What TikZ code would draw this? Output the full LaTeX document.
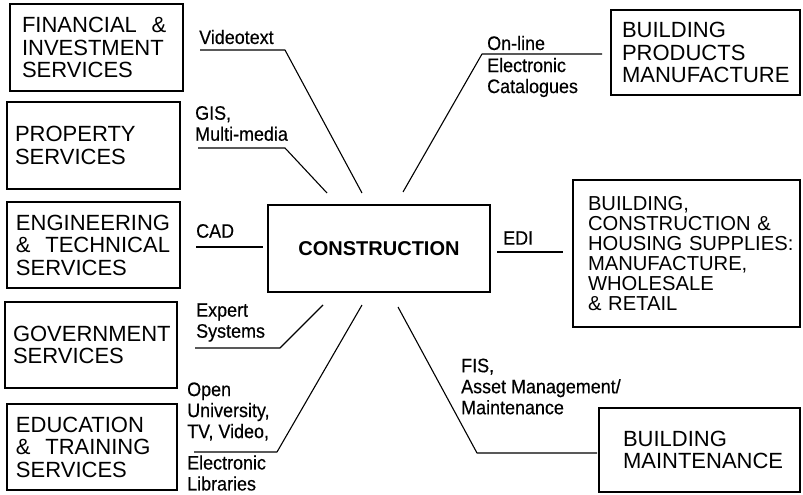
\documentclass[tikz,border=0pt]{standalone}
\usepackage{fontspec}
\newfontfamily\boxfont{Liberation Sans}
\newfontfamily\lblfont[FakeStretch=0.92,FakeBold=0.4]{Liberation Sans}
\begin{document}
\begin{tikzpicture}[x=1pt,y=-1pt,
  svc/.style={draw, line width=1.2pt, rectangle, inner xsep=0pt, inner ysep=0pt,
    align=left, font=\boxfont\fontsize{22pt}{22.5pt}\selectfont},
  hub/.style={draw, line width=1.2pt, rectangle, inner sep=0pt,
    font=\boxfont\bfseries\fontsize{20pt}{22pt}\selectfont},
  lbl/.style={anchor=west, inner sep=0pt, align=left,
    font=\lblfont\fontsize{19.5pt}{21pt}\selectfont},
  conn/.style={line width=1.1pt, line join=round}]
\useasboundingbox (0,0) rectangle (803,495);

% central box
\node[hub, minimum width=222pt, minimum height=87pt] (con) at (379,248.5) {CONSTRUCTION};

% service boxes on the left
\node[svc, minimum width=173pt, minimum height=87pt, text width=149pt] (fin) at (96.5,47.5)
  {FINANCIAL~~\&\\INVESTMENT\\SERVICES};
\node[svc, minimum width=173pt, minimum height=87pt, text width=157pt] (prop) at (93.5,145.5)
  {PROPERTY\\SERVICES};
\node[svc, minimum width=173pt, minimum height=86pt, text width=155pt] (eng) at (93.5,245)
  {ENGINEERING\\\&~~TECHNICAL\\SERVICES};
\node[svc, minimum width=172pt, minimum height=86pt, text width=156pt] (gov) at (91,345)
  {GOVERNMENT\\SERVICES};
\node[svc, minimum width=170pt, minimum height=86pt, text width=152pt] (edu) at (92,447)
  {EDUCATION\\\&~~TRAINING\\SERVICES};

% boxes on the right
\node[svc, minimum width=189pt, minimum height=85pt, text width=167pt] (bpm) at (705.5,52.5)
  {BUILDING\\PRODUCTS\\MANUFACTURE};
\node[svc, minimum width=227pt, minimum height=147pt, text width=197pt,
  font=\boxfont\fontsize{20.2pt}{20pt}\selectfont] (bch) at (686.5,253.5)
  {BUILDING,\\\mbox{CONSTRUCTION \&}\\\mbox{HOUSING SUPPLIES:}\\MANUFACTURE,\\WHOLESALE\\\mbox{\& RETAIL}};
\node[svc, minimum width=201pt, minimum height=84pt, text width=153pt] (bm) at (699.5,450)
  {BUILDING\\MAINTENANCE};

% technology labels
\node[lbl] (l-vt) at (199,37) {Videotext};
\node[lbl] (l-gis) at (195,123.5) {GIS,\\Multi-media};
\node[lbl] (l-cad) at (196,231) {CAD};
\node[lbl] (l-on) at (487,43) {On-line};
\node[lbl] (l-ec) at (487,77.5) {Electronic\\Catalogues};
\node[lbl] (l-edi) at (503,238) {EDI};
\node[lbl] (l-es) at (196,322.5) {Expert\\Systems};
\node[lbl] (l-ou) at (187,411.5) {Open\\University,\\TV, Video,};
\node[lbl] (l-el) at (187,473) {Electronic\\Libraries};
\node[lbl] (l-fis) at (461,386.5) {FIS,\\Asset Management/\\Maintenance};

% connector end and bend points
\coordinate (vt0) at (200,50);  \coordinate (vt1) at (285,50);  \coordinate (vt2) at (362,193);
\coordinate (gi0) at (198,148); \coordinate (gi1) at (285,148); \coordinate (gi2) at (327,193);
\coordinate (ca0) at (196,247); \coordinate (ca1) at (263,247);
\coordinate (ex0) at (195,348); \coordinate (ex1) at (280,348); \coordinate (ex2) at (323,305);
\coordinate (ou0) at (194,452); \coordinate (ou1) at (277,452); \coordinate (ou2) at (362,305);
\coordinate (fi0) at (398,307); \coordinate (fi1) at (477,453); \coordinate (fi2) at (597,453);
\coordinate (ed0) at (497,252); \coordinate (ed1) at (563,252);
\coordinate (ol0) at (403,192); \coordinate (ol1) at (482,54);  \coordinate (ol2) at (602,54);

% connectors
\draw[conn] (vt0) -- (vt1) -- (vt2);
\draw[conn] (gi0) -- (gi1) -- (gi2);
\draw[conn] (ca0) -- (ca1);
\draw[conn] (ex0) -- (ex1) -- (ex2);
\draw[conn] (ou0) -- (ou1) -- (ou2);
\draw[conn] (fi0) -- (fi1) -- (fi2);
\draw[conn] (ed0) -- (ed1);
\draw[conn] (ol0) -- (ol1) -- (ol2);
\end{tikzpicture}
\end{document}
